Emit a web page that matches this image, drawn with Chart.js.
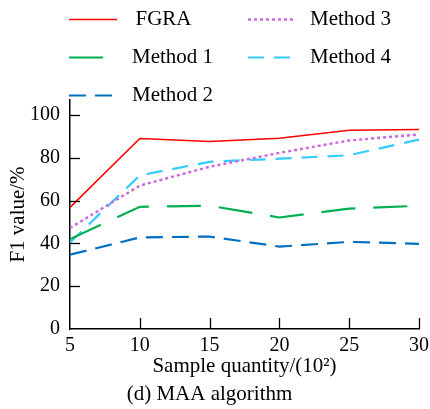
<!DOCTYPE html>
<html>
<head>
<meta charset="utf-8">
<script src="https://cdn.jsdelivr.net/npm/chart.js@4"></script>
<style>
  html, body { margin: 0; padding: 0; background: #fff; }
  #c { display: block; }
</style>
</head>
<body>
<canvas id="c" width="430" height="409"></canvas>
<script>
// ---- data ----
const categories = [5, 10, 15, 20, 25, 30];
const seriesNames = ['FGRA', 'Method 1', 'Method 2', 'Method 3', 'Method 4'];
const fgra    = [56.8, 89.0, 87.6, 89.1, 92.9, 93.2];
const method1 = [42.0, 57.1, 57.6, 52.1, 56.2, 57.6];
const method2 = [34.7, 42.8, 43.2, 38.5, 40.7, 39.8];
const method3 = [47.2, 67.0, 75.8, 82.3, 88.1, 90.9];
const method4 = [40.4, 71.8, 78.1, 79.6, 81.2, 88.5];
const xTicks = [5, 10, 15, 20, 25, 30];
const yTicks = [0, 20, 40, 60, 80, 100];

const FONT = "'Liberation Serif', 'Times New Roman', serif";
Chart.defaults.font.family = FONT;
Chart.defaults.color = '#000';

function pts(vals) { return categories.map((x, i) => ({ x: x, y: vals[i] })); }

const styles = [
  { color: '#FF0000', width: 1.6, dash: [] },
  { color: '#00B050', width: 2.2, dash: [34, 18] },
  { color: '#0070C0', width: 2.2, dash: [17, 9] },
  { color: '#CC66DD', width: 2.4, dash: [3, 3] },
  { color: '#33CCFF', width: 2.2, dash: [16, 10] }
];
const seriesVals = [fgra, method1, method2, method3, method4];

const datasets = seriesNames.map((name, i) => ({
  label: name,
  data: pts(seriesVals[i]),
  borderColor: styles[i].color,
  backgroundColor: styles[i].color,
  borderWidth: styles[i].width,
  borderDash: styles[i].dash,
  pointRadius: 0,
  tension: 0,
  fill: false
}));

// legend layout: [lineX1, lineX2, textX, y]
const legendPos = [
  [69, 117, 135.5, 19.5],
  [69, 117, 132, 57.5],
  [69, 112, 132, 95.5],
  [248, 296, 310, 19.5],
  [248, 292, 310, 57.5]
];

const extras = {
  id: 'extras',
  afterDraw(chart) {
    const ctx = chart.ctx;
    const xs = chart.scales.x, ys = chart.scales.y;
    const area = chart.chartArea;
    ctx.save();
    // inward tick marks
    ctx.strokeStyle = '#000';
    ctx.lineWidth = 1.3;
    ctx.setLineDash([]);
    yTicks.forEach(v => {
      if (v === 0) return;
      const py = Math.round(ys.getPixelForValue(v)) + 0.5;
      ctx.beginPath(); ctx.moveTo(area.left, py); ctx.lineTo(area.left + 10, py); ctx.stroke();
    });
    xTicks.forEach(v => {
      if (v === xTicks[0]) return;
      const px = Math.round(xs.getPixelForValue(v)) + 0.5;
      ctx.beginPath(); ctx.moveTo(px, area.bottom); ctx.lineTo(px, area.bottom - 11); ctx.stroke();
    });
    // legend
    chart.data.datasets.forEach((ds, i) => {
      const p = legendPos[i];
      ctx.strokeStyle = ds.borderColor;
      ctx.lineWidth = ds.borderWidth;
      ctx.setLineDash(ds.borderDash || []);
      ctx.beginPath(); ctx.moveTo(p[0], p[3]); ctx.lineTo(p[1], p[3]); ctx.stroke();
      ctx.setLineDash([]);
      ctx.fillStyle = '#000';
      ctx.font = '21px ' + FONT;
      ctx.textAlign = 'left';
      ctx.textBaseline = 'middle';
      ctx.fillText(ds.label, p[2], p[3]);
    });
    ctx.restore();
  }
};

new Chart(document.getElementById('c'), {
  type: 'line',
  data: { datasets: datasets },
  options: {
    responsive: false,
    animation: false,
    layout: { padding: { top: 100, right: 11, bottom: 0, left: 0 } },
    plugins: {
      legend: { display: false },
      tooltip: { enabled: false },
      title: {
        display: true,
        position: 'bottom',
        text: '(d) MAA algorithm',
        color: '#000',
        font: { size: 21, weight: 'normal', family: FONT },
        padding: { top: 0, bottom: 2 }
      }
    },
    scales: {
      x: {
        type: 'linear',
        min: 5,
        max: 30,
        afterBuildTicks: s => { s.ticks = xTicks.map(v => ({ value: v })); },
        afterFit: s => { s.height = 52.8; s.paddingLeft = 0; s.paddingRight = 0; },
        grid: { display: true, drawOnChartArea: false, drawTicks: false },
        border: { display: true, color: '#000', width: 1.5 },
        ticks: { color: '#000', font: { size: 20 }, padding: 5, maxRotation: 0, autoSkip: false },
        title: {
          display: true,
          text: 'Sample quantity/(10²)',
          color: '#000',
          font: { size: 21 },
          padding: { top: 0, bottom: 3 }
        }
      },
      y: {
        type: 'linear',
        min: 0,
        max: 107,
        afterBuildTicks: s => { s.ticks = yTicks.map(v => ({ value: v })); },
        afterFit: s => { s.width = 70; s.paddingTop = 0; s.paddingBottom = 0; },
        grid: { display: true, drawOnChartArea: false, drawTicks: false },
        border: { display: true, color: '#000', width: 1.5 },
        ticks: { color: '#000', font: { size: 20 }, padding: 10 },
        title: {
          display: true,
          text: 'F1 value/%',
          color: '#000',
          font: { size: 21 },
          padding: { top: 6.3, bottom: 0 }
        }
      }
    }
  },
  plugins: [extras]
});
</script>
</body>
</html>
